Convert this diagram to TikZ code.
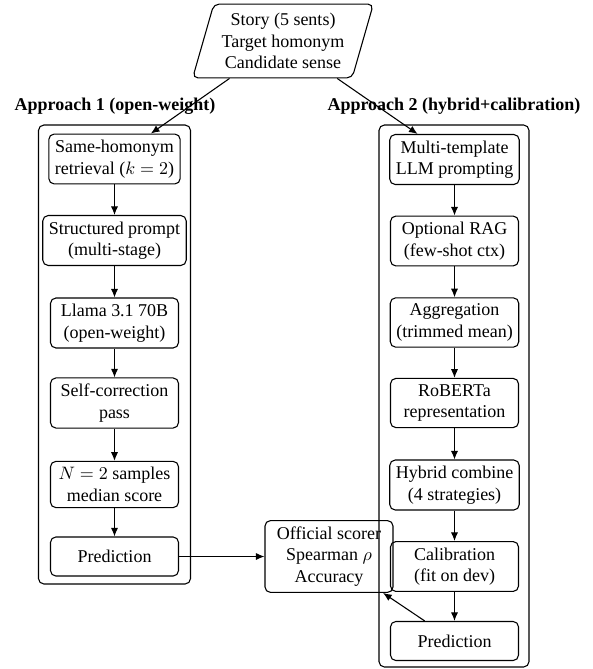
\documentclass[tikz,border=0pt]{standalone}
\usepackage{fontspec}
\setmainfont{Liberation Serif}
\usetikzlibrary{arrows.meta,shapes.geometric}
\newcommand{\pxu}{0.5556pt}
\tikzset{
  stepbox/.style={draw, rounded corners=3pt, align=center, minimum width=2.5cm, minimum height=21.7pt, inner sep=3.33pt},
  groupbox/.style={draw, rounded corners=3pt, inner sep=0pt},
  grouplabel/.style={font=\bfseries, inner sep=1pt},
  inputbox/.style={draw, trapezium, trapezium left angle=74, trapezium right angle=106, rounded corners=3pt, align=center, inner xsep=4.3pt, inner ysep=5pt},
  flow/.style={-{Latex[length=4.8pt,width=4pt]}},
}
\begin{document}
\begin{tikzpicture}[x=\pxu, y=-\pxu, line width=0.6pt]
\useasboundingbox (0,0) rectangle (592,669);
% groups
\node[groupbox, minimum width=152*\pxu, minimum height=459*\pxu] (g1) at (114.5,354.5) {};
\node[groupbox, minimum width=150*\pxu, minimum height=542*\pxu] (g2) at (454,396) {};
\node[grouplabel] (lab1) at (115,106) {Approach 1 (open-weight)};
\node[grouplabel] (lab2) at (454,106) {Approach 2 (hybrid+calibration)};
% input
\node[inputbox] (in) at (283,41) {Story (5 sents)\\Target homonym\\Candidate sense};
% left column
\node[stepbox] (a1) at (114.5,159) {Same-homonym\\retrieval ($k=2$)};
\node[stepbox] (a2) at (114.5,240.5) {Structured prompt\\(multi-stage)};
\node[stepbox] (a3) at (114.5,323) {Llama 3.1 70B\\(open-weight)};
\node[stepbox] (a4) at (114.5,403) {Self-correction\\pass};
\node[stepbox] (a5) at (114.5,484.5) {$N=2$ samples\\median score};
\node[stepbox] (a6) at (114.5,556.5) {Prediction};
% right column
\node[stepbox] (b1) at (454.5,159.5) {Multi-template\\LLM prompting};
\node[stepbox] (b2) at (454.5,241) {Optional RAG\\(few-shot ctx)};
\node[stepbox] (b3) at (454.5,322.5) {Aggregation\\(trimmed mean)};
\node[stepbox] (b4) at (454.5,403) {RoBERTa\\representation};
\node[stepbox] (b5) at (454.5,485) {Hybrid combine\\(4 strategies)};
\node[stepbox] (b6) at (454.5,566.5) {Calibration\\(fit on dev)};
\node[stepbox] (b7) at (454.5,641) {Prediction};
% scorer
\node[stepbox] (sc) at (329,556.5) {Official scorer\\Spearman $\rho$\\Accuracy};
% connectors
\draw[flow] (in) -- (a1);
\draw[flow] (in) -- (b1);
\draw[flow] (a1) -- (a2);
\draw[flow] (a2) -- (a3);
\draw[flow] (a3) -- (a4);
\draw[flow] (a4) -- (a5);
\draw[flow] (a5) -- (a6);
\draw[flow] (b1) -- (b2);
\draw[flow] (b2) -- (b3);
\draw[flow] (b3) -- (b4);
\draw[flow] (b4) -- (b5);
\draw[flow] (b5) -- (b6);
\draw[flow] (b6) -- (b7);
\draw[flow] (a6) -- (sc);
\draw[flow] (b7) -- (sc);
\end{tikzpicture}
\end{document}
